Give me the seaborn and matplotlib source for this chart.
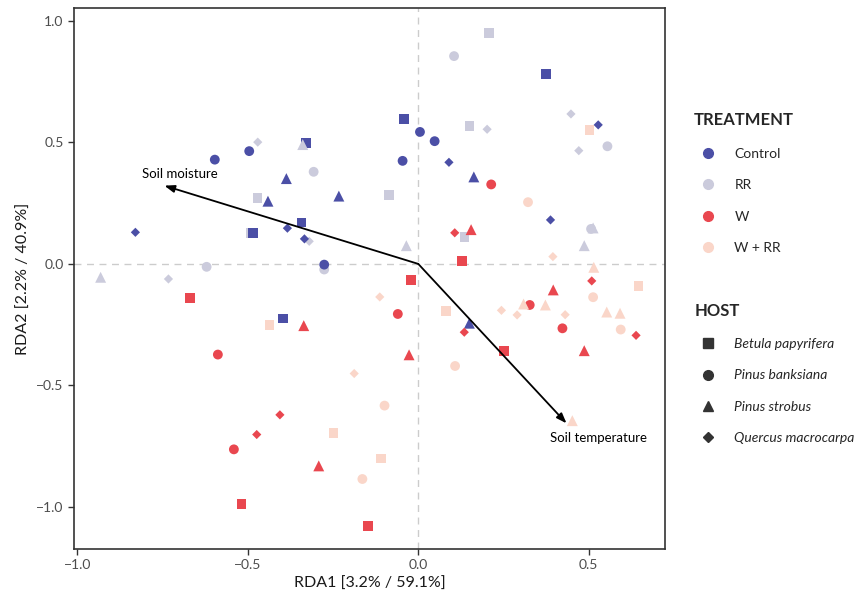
import pandas as pd
import matplotlib
matplotlib.use('Agg')
import matplotlib.pyplot as plt
from matplotlib.lines import Line2D
import seaborn as sns

# site scores per treatment: x (RDA1), y (RDA2), host
ctrl_x = [-0.597, -0.496, -0.330, -0.387, -0.441, -0.233, -0.343, -0.384, -0.830, -0.485, -0.334, -0.276,
          0.375, -0.041, 0.528, 0.005, 0.048, -0.046, 0.090, 0.163, 0.388, -0.396, 0.150]
ctrl_y = [0.429, 0.464, 0.498, 0.351, 0.258, 0.279, 0.171, 0.147, 0.130, 0.126, 0.103, -0.003,
          0.781, 0.595, 0.572, 0.543, 0.505, 0.424, 0.418, 0.358, 0.181, -0.224, -0.244]
ctrl_host = ['PB', 'PB', 'BP', 'PS', 'PS', 'PS', 'BP', 'QM', 'QM', 'BP', 'QM', 'PB',
             'BP', 'BP', 'QM', 'PB', 'PB', 'PB', 'QM', 'PS', 'QM', 'BP', 'PS']

rr_x = [-0.471, -0.339, -0.307, -0.472, -0.492, -0.320, -0.621, -0.276, -0.932, -0.733, 0.208, 0.105,
        0.448, 0.150, 0.202, 0.555, 0.471, -0.085, 0.507, 0.513, 0.136, -0.035, 0.487]
rr_y = [0.501, 0.491, 0.379, 0.272, 0.126, 0.093, -0.012, -0.023, -0.055, -0.062, 0.951, 0.855,
        0.617, 0.568, 0.554, 0.484, 0.466, 0.283, 0.144, 0.148, 0.110, 0.075, 0.075]
rr_host = ['QM', 'PS', 'PB', 'BP', 'BP', 'QM', 'PB', 'PB', 'PS', 'QM', 'BP', 'PB',
           'QM', 'BP', 'QM', 'PB', 'QM', 'BP', 'PB', 'PS', 'BP', 'PS', 'PS']

w_x = [0.214, 0.107, 0.155, 0.129, 0.509, -0.021, -0.060, 0.396, 0.327, 0.135, 0.423, 0.639,
       -0.027, 0.252, 0.487, -0.148, -0.669, -0.336, -0.588, -0.406, -0.474, -0.541, -0.292, -0.519]
w_y = [0.327, 0.128, 0.141, 0.011, -0.070, -0.066, -0.206, -0.107, -0.169, -0.281, -0.265, -0.294,
       -0.374, -0.358, -0.357, -1.079, -0.141, -0.254, -0.373, -0.621, -0.702, -0.763, -0.831, -0.989]
w_host = ['PB', 'QM', 'PS', 'BP', 'QM', 'BP', 'PB', 'PS', 'PB', 'QM', 'PB', 'QM',
          'PS', 'BP', 'PS', 'BP', 'BP', 'PS', 'PB', 'QM', 'QM', 'PB', 'PS', 'BP']

wrr_x = [0.502, 0.322, 0.395, 0.515, 0.646, -0.113, 0.082, 0.309, 0.373, 0.513, 0.244, 0.290,
         0.431, 0.553, 0.592, 0.594, 0.108, -0.099, 0.452, -0.109, -0.164, -0.437, -0.188, -0.249]
wrr_y = [0.550, 0.254, 0.030, -0.014, -0.091, -0.136, -0.193, -0.165, -0.169, -0.137, -0.191, -0.210,
         -0.209, -0.198, -0.203, -0.270, -0.420, -0.583, -0.645, -0.800, -0.885, -0.252, -0.451, -0.697]
wrr_host = ['BP', 'PB', 'QM', 'PS', 'BP', 'QM', 'BP', 'PS', 'PS', 'PB', 'QM', 'QM',
            'QM', 'PS', 'PS', 'PB', 'PB', 'PB', 'PS', 'BP', 'PB', 'BP', 'QM', 'BP']

treatments = ['Control', 'RR', 'W', 'W + RR']
host_names = {'BP': 'Betula papyrifera', 'PB': 'Pinus banksiana',
              'PS': 'Pinus strobus', 'QM': 'Quercus macrocarpa'}
hosts = list(host_names.values())

# environmental vectors
env_names = ['Soil moisture', 'Soil temperature']
env_x = [-0.745, 0.435]
env_y = [0.322, -0.656]
env_lab_x = [-0.699, 0.528]
env_lab_y = [0.368, -0.717]

pal = {'Control': '#4B4FA6', 'RR': '#CBCBDC', 'W': '#E9474F', 'W + RR': '#FAD6C9'}
marks = {'Betula papyrifera': 's', 'Pinus banksiana': 'o', 'Pinus strobus': '^', 'Quercus macrocarpa': 'D'}
sizes = {'Betula papyrifera': 48, 'Pinus banksiana': 50, 'Pinus strobus': 62, 'Quercus macrocarpa': 22}

def make_df(xs, ys, hs, trt):
    return pd.DataFrame({'RDA1': xs, 'RDA2': ys,
                         'host': [host_names[h] for h in hs], 'treatment': trt})

# draw order as in the original (Control on top)
df = pd.concat([make_df(rr_x, rr_y, rr_host, 'RR'),
                make_df(wrr_x, wrr_y, wrr_host, 'W + RR'),
                make_df(w_x, w_y, w_host, 'W'),
                make_df(ctrl_x, ctrl_y, ctrl_host, 'Control')], ignore_index=True)

sns.set_style('white')
plt.rcParams['font.family'] = ['Lato', 'DejaVu Sans']

fig = plt.figure(figsize=(8.64, 6), dpi=100)
ax = fig.add_axes([0.0857, 0.085, 0.684, 0.9017])

ax.axhline(0, color='#CCCCCC', ls=(0, (5, 4)), lw=1, zorder=0)
ax.axvline(0, color='#CCCCCC', ls=(0, (5, 4)), lw=1, zorder=0)

# one call per host so each shape gets its own size
for h in hosts:
    sub = df[df['host'] == h]
    sns.scatterplot(data=sub, x='RDA1', y='RDA2', hue='treatment', palette=pal,
                    marker=marks[h], s=sizes[h], linewidth=0, legend=False, ax=ax, zorder=3)

for nm, ex, ey, lx, ly in zip(env_names, env_x, env_y, env_lab_x, env_lab_y):
    ax.annotate('', xy=(ex, ey), xytext=(0, 0),
                arrowprops=dict(arrowstyle='-|>,head_length=0.6,head_width=0.22', color='black',
                                lw=1.3, shrinkA=0, shrinkB=0), zorder=5)
    ax.text(lx, ly, nm, ha='center', va='center', fontsize=9.5, color='black', zorder=6)

ax.set_xlim(-1.01, 0.724)
ax.set_ylim(-1.173, 1.053)
ax.set_xticks([-1.0, -0.5, 0.0, 0.5])
ax.set_yticks([-1.0, -0.5, 0.0, 0.5, 1.0])
ax.set_xticklabels(['\u22121.0', '\u22120.5', '0.0', '0.5'])
ax.set_yticklabels(['\u22121.0', '\u22120.5', '0.0', '0.5', '1.0'])
ax.tick_params(axis='both', direction='out', length=4, width=1, color='#333333',
               labelsize=10, labelcolor='#4D4D4D', left=True, bottom=True)
for sp in ax.spines.values():
    sp.set_color('#333333')
    sp.set_linewidth(1.2)
ax.set_xlabel('RDA1 [3.2% / 59.1%]', fontsize=11.5, color='#1A1A1A', labelpad=4)
ax.set_ylabel('RDA2 [2.2% / 40.9%]', fontsize=11.5, color='#1A1A1A', labelpad=4)

# legends
trt_handles = [Line2D([], [], marker='o', ls='', color=pal[t], markersize=7) for t in treatments]
host_handles = [Line2D([], [], marker=marks[h], ls='', color='#333333',
                       markersize=7 if marks[h] != 'D' else 5) for h in hosts]
leg1 = fig.legend(trt_handles, treatments, title='TREATMENT', loc='upper left',
                  bbox_to_anchor=(0.797, 0.822), frameon=False, fontsize=10,
                  handletextpad=0.9, labelspacing=1.4, borderaxespad=0, alignment='left')
leg1.get_title().set_fontweight('bold')
leg1.get_title().set_fontsize(12)
leg2 = fig.legend(host_handles, hosts, title='HOST', loc='upper left',
                  bbox_to_anchor=(0.797, 0.505), frameon=False, fontsize=10,
                  handletextpad=0.9, labelspacing=1.4, borderaxespad=0, alignment='left',
                  prop={'style': 'italic', 'size': 10})
leg2.get_title().set_fontweight('bold')
leg2.get_title().set_fontsize(12)

fig.savefig('out.png', dpi=100)
